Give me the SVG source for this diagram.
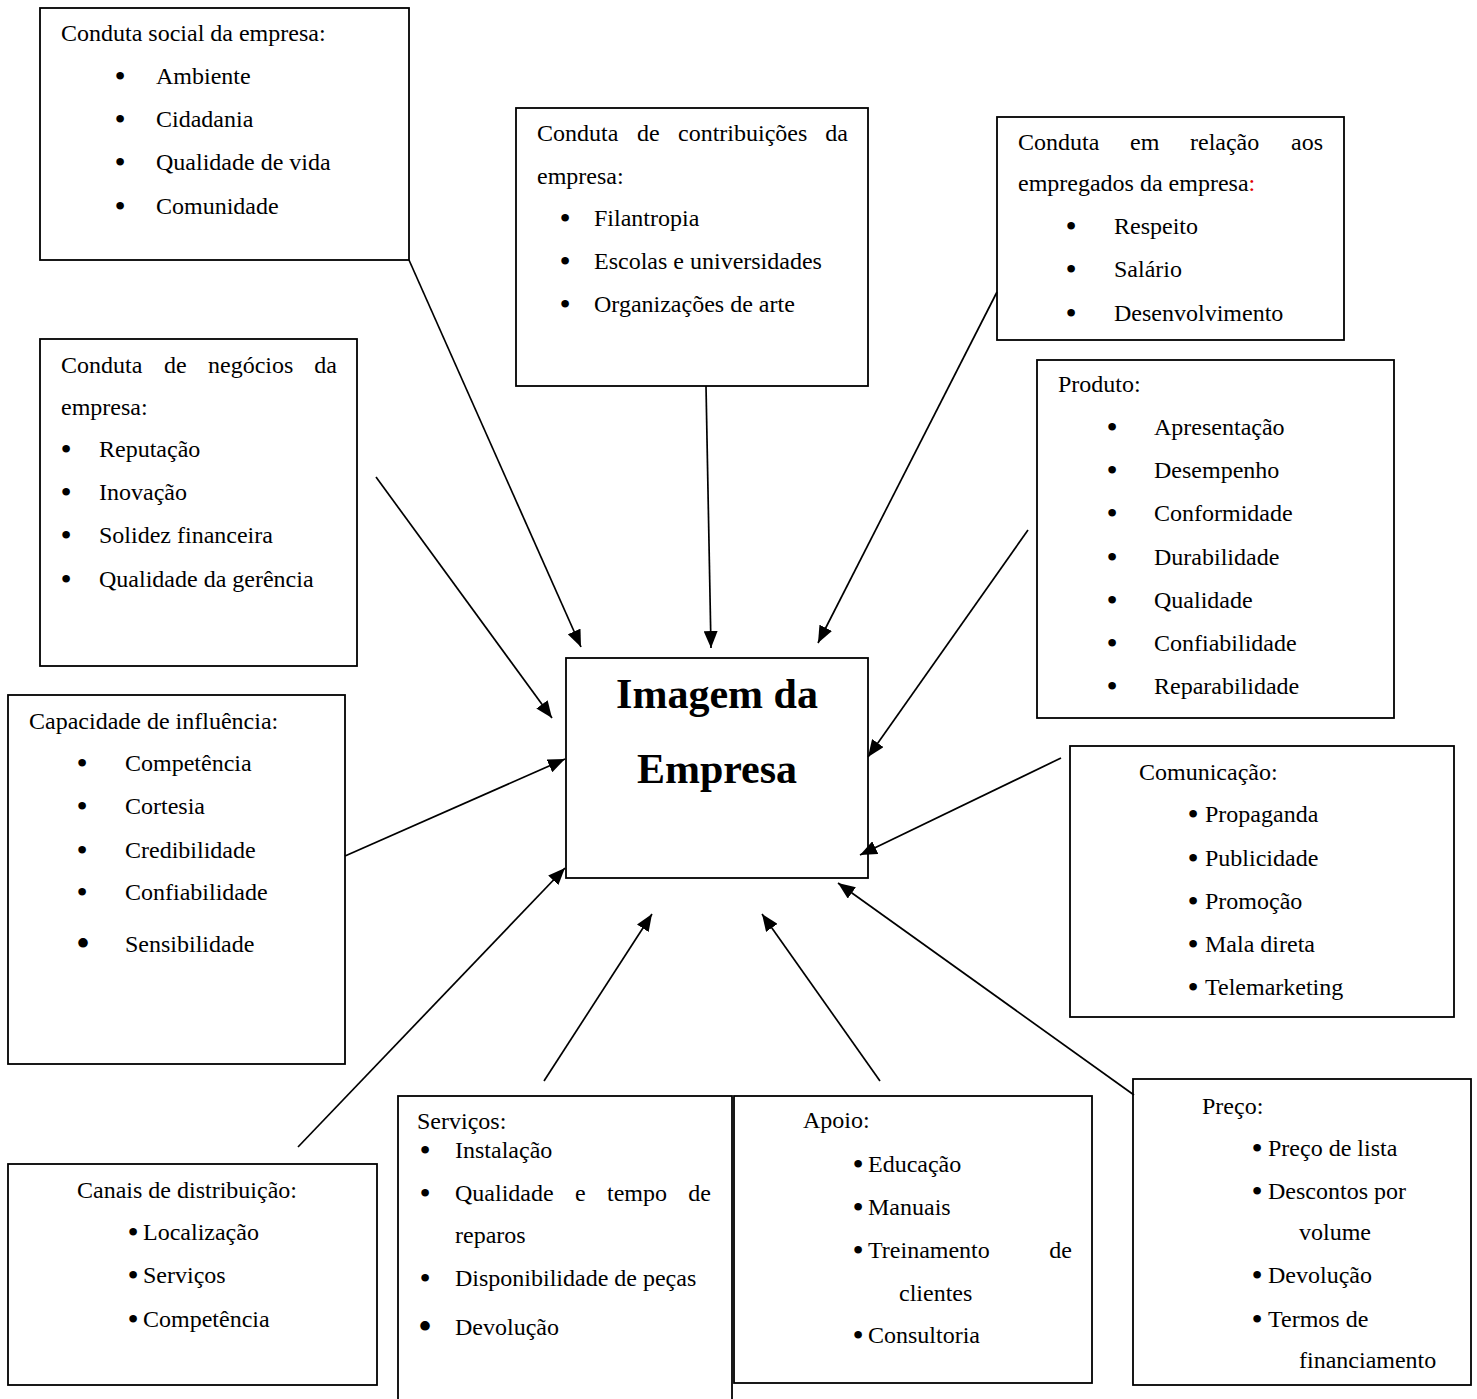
<svg xmlns="http://www.w3.org/2000/svg" width="1477" height="1399" viewBox="0 0 1477 1399">
<style>
text{font-family:"Liberation Serif","Times New Roman",serif;font-size:24px;fill:#000}
.box{fill:#fff;stroke:#000;stroke-width:1.8}
.b{text-anchor:middle;font-size:32px}
.big{font-size:40px}
.e{text-anchor:end}
.title{font-weight:bold;font-size:42px;text-anchor:middle}
.red{fill:#e00000}
#connectors line{stroke:#000;stroke-width:1.7;marker-end:url(#ah)}
</style>
<defs>
<marker id="ah" markerUnits="userSpaceOnUse" markerWidth="18" markerHeight="14" refX="17" refY="7" orient="auto">
<path d="M0,0 L17,7 L0,14 z" fill="#000"/>
</marker>
</defs>
<rect width="1477" height="1399" fill="#fff"/>

<g id="social">
<rect class="box" x="40" y="8" width="369" height="252"/>
<text x="61" y="41">Conduta social da empresa:</text>
<text class="b" x="120" y="87">•</text><text x="156" y="84">Ambiente</text>
<text class="b" x="120" y="130">•</text><text x="156" y="127">Cidadania</text>
<text class="b" x="120" y="173">•</text><text x="156" y="170">Qualidade de vida</text>
<text class="b" x="120" y="217">•</text><text x="156" y="214">Comunidade</text>
</g>

<g id="contribuicoes">
<rect class="box" x="516" y="108" width="352" height="278"/>
<text x="537" y="141">Conduta</text><text x="637" y="141">de</text><text x="678" y="141">contribuições</text><text class="e" x="848" y="141">da</text>
<text x="537" y="184">empresa:</text>
<text class="b" x="565" y="229">•</text><text x="594" y="226">Filantropia</text>
<text class="b" x="565" y="272">•</text><text x="594" y="269">Escolas e universidades</text>
<text class="b" x="565" y="315">•</text><text x="594" y="312">Organizações de arte</text>
</g>

<g id="empregados">
<rect class="box" x="997" y="117" width="347" height="223"/>
<text x="1018" y="150">Conduta</text><text x="1130" y="150">em</text><text x="1190" y="150">relação</text><text class="e" x="1323" y="150">aos</text>
<text x="1018" y="191">empregados da empresa<tspan class="red">:</tspan></text>
<text class="b" x="1071" y="237">•</text><text x="1114" y="234">Respeito</text>
<text class="b" x="1071" y="280">•</text><text x="1114" y="277">Salário</text>
<text class="b" x="1071" y="324">•</text><text x="1114" y="321">Desenvolvimento</text>
</g>

<g id="negocios">
<rect class="box" x="40" y="339" width="317" height="327"/>
<text x="61" y="373">Conduta</text><text x="164" y="373">de</text><text x="208" y="373">negócios</text><text class="e" x="337" y="373">da</text>
<text x="61" y="415">empresa:</text>
<text class="b" x="66" y="460">•</text><text x="99" y="457">Reputação</text>
<text class="b" x="66" y="503">•</text><text x="99" y="500">Inovação</text>
<text class="b" x="66" y="546">•</text><text x="99" y="543">Solidez financeira</text>
<text class="b" x="66" y="590">•</text><text x="99" y="587">Qualidade da gerência</text>
</g>

<g id="produto">
<rect class="box" x="1037" y="360" width="357" height="358"/>
<text x="1058" y="392">Produto:</text>
<text class="b" x="1112" y="438">•</text><text x="1154" y="435">Apresentação</text>
<text class="b" x="1112" y="481">•</text><text x="1154" y="478">Desempenho</text>
<text class="b" x="1112" y="524">•</text><text x="1154" y="521">Conformidade</text>
<text class="b" x="1112" y="568">•</text><text x="1154" y="565">Durabilidade</text>
<text class="b" x="1112" y="611">•</text><text x="1154" y="608">Qualidade</text>
<text class="b" x="1112" y="654">•</text><text x="1154" y="651">Confiabilidade</text>
<text class="b" x="1112" y="697">•</text><text x="1154" y="694">Reparabilidade</text>
</g>

<g id="capacidade">
<rect class="box" x="8" y="695" width="337" height="369"/>
<text x="29" y="729">Capacidade de influência:</text>
<text class="b" x="82" y="774">•</text><text x="125" y="771">Competência</text>
<text class="b" x="82" y="817">•</text><text x="125" y="814">Cortesia</text>
<text class="b" x="82" y="861">•</text><text x="125" y="858">Credibilidade</text>
<text class="b" x="82" y="903">•</text><text x="125" y="900">Confiabilidade</text>
<text class="b big" x="83" y="957">•</text><text x="125" y="952">Sensibilidade</text>
</g>

<g id="imagem">
<rect class="box" x="566" y="658" width="302" height="220"/>
<text class="title" x="717" y="708">Imagem da</text>
<text class="title" x="717" y="783">Empresa</text>
</g>

<g id="comunicacao">
<rect class="box" x="1070" y="746" width="384" height="271"/>
<text x="1139" y="780">Comunicação:</text>
<text class="b" x="1193" y="825">•</text><text x="1205" y="822">Propaganda</text>
<text class="b" x="1193" y="869">•</text><text x="1205" y="866">Publicidade</text>
<text class="b" x="1193" y="912">•</text><text x="1205" y="909">Promoção</text>
<text class="b" x="1193" y="955">•</text><text x="1205" y="952">Mala direta</text>
<text class="b" x="1193" y="998">•</text><text x="1205" y="995">Telemarketing</text>
</g>

<g id="canais">
<rect class="box" x="8" y="1164" width="369" height="221"/>
<text x="77" y="1198">Canais de distribuição:</text>
<text class="b" x="133" y="1243">•</text><text x="143" y="1240">Localização</text>
<text class="b" x="133" y="1286">•</text><text x="143" y="1283">Serviços</text>
<text class="b" x="133" y="1330">•</text><text x="143" y="1327">Competência</text>
</g>

<g id="servicos">
<rect class="box" x="398" y="1096" width="334" height="312"/>
<text x="417" y="1129">Serviços:</text>
<text class="b" x="425" y="1161">•</text><text x="455" y="1158">Instalação</text>
<text class="b" x="425" y="1204">•</text><text x="455" y="1201">Qualidade</text><text x="575" y="1201">e</text><text x="607" y="1201">tempo</text><text class="e" x="711" y="1201">de</text>
<text x="455" y="1243">reparos</text>
<text class="b" x="425" y="1289">•</text><text x="455" y="1286">Disponibilidade de peças</text>
<text class="b big" x="425" y="1340">•</text><text x="455" y="1335">Devolução</text>
</g>

<g id="apoio">
<rect class="box" x="734" y="1096" width="358" height="287"/>
<text x="803" y="1128">Apoio:</text>
<text class="b" x="858" y="1175">•</text><text x="868" y="1172">Educação</text>
<text class="b" x="858" y="1218">•</text><text x="868" y="1215">Manuais</text>
<text class="b" x="858" y="1261">•</text><text x="868" y="1258">Treinamento</text><text class="e" x="1072" y="1258">de</text>
<text x="899" y="1301">clientes</text>
<text class="b" x="858" y="1346">•</text><text x="868" y="1343">Consultoria</text>
</g>

<g id="preco">
<rect class="box" x="1133" y="1079" width="338" height="306"/>
<text x="1202" y="1114">Preço:</text>
<text class="b" x="1257" y="1159">•</text><text x="1268" y="1156">Preço de lista</text>
<text class="b" x="1257" y="1202">•</text><text x="1268" y="1199">Descontos por</text>
<text x="1299" y="1240">volume</text>
<text class="b" x="1257" y="1286">•</text><text x="1268" y="1283">Devolução</text>
<text class="b" x="1257" y="1330">•</text><text x="1268" y="1327">Termos de</text>
<text x="1299" y="1368">financiamento</text>
</g>

<g id="connectors">
<line x1="409" y1="260" x2="581" y2="647"/>
<line x1="706" y1="386" x2="711" y2="648"/>
<line x1="997" y1="292" x2="818" y2="643"/>
<line x1="376" y1="477" x2="552" y2="718"/>
<line x1="1028" y1="530" x2="868" y2="757"/>
<line x1="345" y1="856" x2="565" y2="759"/>
<line x1="1061" y1="758" x2="860" y2="855"/>
<line x1="298" y1="1147" x2="565" y2="868"/>
<line x1="544" y1="1081" x2="652" y2="914"/>
<line x1="880" y1="1081" x2="762" y2="914"/>
<line x1="1134" y1="1095" x2="838" y2="883"/>
</g>
</svg>
